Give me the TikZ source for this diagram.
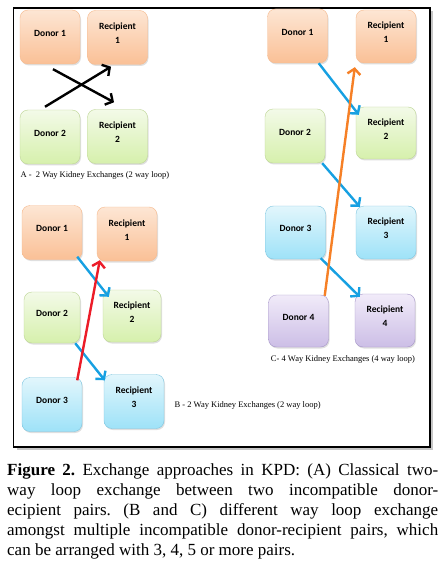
\documentclass[tikz,border=0pt]{standalone}
\usepackage{fontspec}
\setmainfont{Liberation Serif}
\newfontfamily\cali{Carlito}
\usetikzlibrary{arrows.meta,shadows}
\definecolor{orT}{RGB}{253,230,212}
\definecolor{orB}{RGB}{250,192,150}
\definecolor{orD}{RGB}{246,186,142}
\definecolor{grT}{RGB}{243,250,232}
\definecolor{grB}{RGB}{214,240,172}
\definecolor{grD}{RGB}{190,214,150}
\definecolor{blT}{RGB}{226,246,252}
\definecolor{blB}{RGB}{158,226,248}
\definecolor{blD}{RGB}{128,198,224}
\definecolor{puT}{RGB}{241,235,249}
\definecolor{puB}{RGB}{204,190,230}
\definecolor{puD}{RGB}{166,150,200}
\definecolor{arB}{RGB}{22,160,226}
\definecolor{arR}{RGB}{236,28,40}
\definecolor{arO}{RGB}{246,128,38}

\tikzset{
  pair/.style={rounded corners=8pt,minimum width=60pt,minimum height=54pt,inner sep=0pt,
    align=center,text depth=8pt,font=\cali\bfseries\fontsize{9.5}{14}\selectfont,
    drop shadow={shadow xshift=1pt,shadow yshift=-1.5pt,opacity=.25}},
  orbox/.style={pair,draw=orD,top color=orT,bottom color=orB},
  grbox/.style={pair,draw=grD,top color=grT,bottom color=grB},
  blbox/.style={pair,draw=blD,top color=blT,bottom color=blB},
  pubox/.style={pair,draw=puD,top color=puT,bottom color=puB},
  swap/.style={line width=2.4pt,-{Straight Barb[length=5.5pt,width=13pt]}},
  sub/.style={font=\fontsize{8.5}{10}\selectfont,anchor=west}
}

\begin{document}
\begin{tikzpicture}[x=1pt,y=-1pt]
\useasboundingbox (0,0) rectangle (444,564);
% frame
\draw[line width=1.3pt,fill=white,drop shadow={shadow xshift=3pt,shadow yshift=-3pt,opacity=.45}]
  (13.5,8) rectangle (430,447);
% A: two way loop
\node[orbox] (dA1) at (50,37) {Donor 1};
\node[orbox] (rA1) at (117.5,37.5) {Recipient\\1};
\node[grbox] (dA2) at (50,137) {Donor 2};
\node[grbox] (rA2) at (117.5,136.5) {Recipient\\2};
\draw[swap] ([xshift=-5pt,yshift=3pt]dA2.north) -- ([xshift=-6.5pt,yshift=-2pt]rA1.south);
\draw[swap] ([xshift=3pt,yshift=-5pt]dA1.south) -- ([xshift=-3.5pt,yshift=7pt]rA2.north);
\node[sub] (capA) at (17,175) {A -\ \ 2 Way Kidney Exchanges (2 way loop)};
% B: three pairs
\node[orbox] (dB1) at (52,232.5) {Donor 1};
\node[orbox] (rB1) at (127,234) {Recipient\\1};
\node[grbox,minimum width=56pt,minimum height=51pt] (dB2) at (52,317.5) {Donor 2};
\node[grbox,minimum width=58pt,minimum height=52pt] (rB2) at (132,316) {Recipient\\2};
\node[blbox] (dB3) at (52,404.5) {Donor 3};
\node[blbox] (rB3) at (134,401.5) {Recipient\\3};
\draw[swap,arB] ([xshift=-5pt,yshift=3pt]dB1.south east) -- ([xshift=6pt,yshift=-7pt]rB2.north west);
\draw[swap,arB] ([xshift=-5pt]dB2.south east) -- ([xshift=1pt,yshift=-6pt]rB3.north west);
\draw[swap,arR] ([xshift=-5pt,yshift=-3pt]dB3.north east) -- ([xshift=3pt,yshift=1pt]rB1.south west);
\node[sub] (capB) at (171,405) {B - 2 Way Kidney Exchanges (2 way loop)};
% C: four way loop
\node[orbox] (dC1) at (297.5,36) {Donor 1};
\node[orbox,minimum height=53pt] (rC1) at (386,36.5) {Recipient\\1};
\node[grbox] (dC2) at (295,136) {Donor 2};
\node[grbox,minimum height=52pt] (rC2) at (386,133) {Recipient\\2};
\node[blbox,minimum height=53pt] (dC3) at (295.5,232.5) {Donor 3};
\node[blbox,minimum height=53pt] (rC3) at (386,232.5) {Recipient\\3};
\node[pubox,minimum height=52pt] (dC4) at (298.5,321) {Donor 4};
\node[pubox,minimum height=53pt] (rC4) at (385,320.5) {Recipient\\4};
\draw[swap,arB] ([xshift=-9pt]dC1.south east) -- ([xshift=3pt,yshift=-8pt]rC2.north west);
\draw[swap,arB] ([xshift=-3pt]dC2.south east) -- ([xshift=4pt,yshift=-1pt]rC3.north west);
\draw[swap,arB] ([xshift=-5pt,yshift=1pt]dC3.south east) -- ([xshift=5pt,yshift=-3pt]rC4.north west);
\draw[swap,arO] ([xshift=-4pt,yshift=-1pt]dC4.north east) -- ([xshift=-1pt,yshift=-4pt]rC1.south west);
\node[sub,anchor=center] (capC) at (343,359) {C- 4 Way Kidney Exchanges (4 way loop)};
% figure caption
\node[anchor=north west,inner sep=0pt,text width=431pt,align=justify,
  font=\fontsize{17}{20}\selectfont] (fig) at (7,463)
  {\frenchspacing\tolerance=10000 \textbf{Figure 2.} Exchange approaches in KPD: (A) Classical two-\linebreak
   way loop exchange between two incompatible donor-\linebreak
   ecipient pairs. (B and C) different way loop exchange\linebreak
   amongst multiple incompatible donor-recipient pairs, which\linebreak
   can be arranged with 3, 4, 5 or more pairs.};
\end{tikzpicture}
\end{document}
